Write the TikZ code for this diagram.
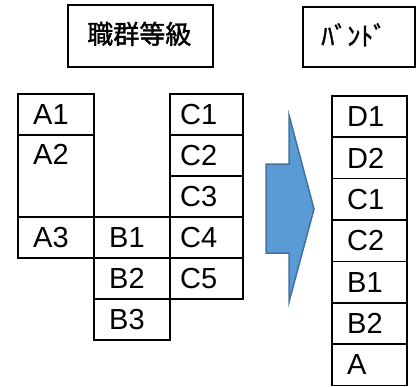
\documentclass[tikz,border=0pt]{standalone}
\usepackage{fontspec}
\setmainfont{Liberation Sans}
\newfontfamily\jpfont[FakeBold=1.5]{Noto Sans CJK JP}
\usetikzlibrary{calc}
\tikzset{
  cellbox/.style={draw=black, line width=1.6pt, rectangle, inner sep=0pt, anchor=north west},
  celltext/.style={anchor=west, inner sep=0pt, font=\fontsize{29}{31}\selectfont},
  titlebox/.style={draw=black, line width=1.6pt, rectangle, inner sep=0pt, anchor=north west},
  titletext/.style={inner sep=0pt, font=\jpfont\fontsize{26}{28}\selectfont},
  bluearrow/.style={fill=arrowfill, draw=arrowline, line width=1.5pt, line join=miter}
}
\definecolor{arrowfill}{HTML}{5B9BD5}
\definecolor{arrowline}{HTML}{41719C}
\begin{document}
\begin{tikzpicture}[x=1pt,y=-1pt]
\useasboundingbox (0,0) rectangle (419,386);
% titles
\node[titlebox, minimum width=145, minimum height=62] (t1) at (67,4) {};
\node[titletext] (t1t) at ($(t1.center)+(-1,-2)$) {職群等級};
\node[titlebox, minimum width=112, minimum height=60] (t2) at (302,6) {};
\node[titletext] (t2t) at ($(t2.center)+(-5,-2)$) {ﾊﾞﾝﾄﾞ};
% column A
\node[cellbox, minimum width=76, minimum height=41] (a1) at (17,93) {};
\node[celltext] (a1t) at ($(a1.west)+(16,0)$) {A1};
\node[cellbox, minimum width=76, minimum height=82] (a2) at (17,134) {};
\node[celltext] (a2t) at ($(a2.north west)+(16,20.5)$) {A2};
\node[cellbox, minimum width=76, minimum height=41] (a3) at (17,216) {};
\node[celltext] (a3t) at ($(a3.west)+(16,0)$) {A3};
% column B
\node[cellbox, minimum width=76, minimum height=41] (b1) at (93,216) {};
\node[celltext] (b1t) at ($(b1.west)+(16,0)$) {B1};
\node[cellbox, minimum width=76, minimum height=41] (b2) at (93,257) {};
\node[celltext] (b2t) at ($(b2.west)+(16,0)$) {B2};
\node[cellbox, minimum width=76, minimum height=41] (b3) at (93,298) {};
\node[celltext] (b3t) at ($(b3.west)+(16,0)$) {B3};
% column C
\foreach \n/\y in {1/93,2/134,3/175,4/216,5/257}{
  \node[cellbox, minimum width=73, minimum height=41] (c\n) at (169,\y) {};
  \node[celltext] (c\n t) at ($(c\n.west)+(11,0)$) {C\n};
}
% arrow
\draw[bluearrow] (266,164) -- (289,164) -- (289,115) -- (314,209) -- (289,302) -- (289,253) -- (266,253) -- cycle;
% band column
\foreach \n/\y/\t in {1/95/D1,2/136.4/D2,3/177.8/C1,4/219.2/C2,5/260.6/B1,6/302/B2,7/343.4/A}{
  \node[cellbox, minimum width=75, minimum height=41.4] (d\n) at (331,\y) {};
  \node[celltext] (d\n t) at ($(d\n.west)+(16,0)$) {\t};
}
\end{tikzpicture}
\end{document}
